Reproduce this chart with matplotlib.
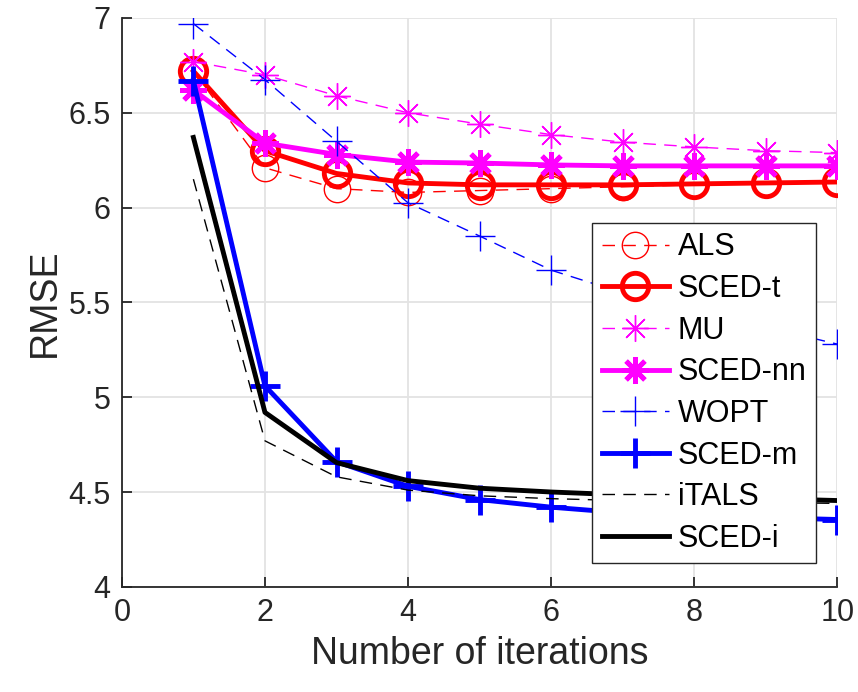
import matplotlib
matplotlib.use("Agg")
import matplotlib.pyplot as plt

plt.rcParams['font.family'] = ['Liberation Sans', 'DejaVu Sans']

iters = [1, 2, 3, 4, 5, 6, 7, 8, 9, 10]

als = [6.72, 6.21, 6.10, 6.08, 6.09, 6.10, 6.11, 6.12, 6.13, 6.13]
sced_t = [6.72, 6.30, 6.18, 6.13, 6.12, 6.12, 6.12, 6.125, 6.13, 6.135]
mu = [6.77, 6.70, 6.59, 6.50, 6.44, 6.385, 6.345, 6.32, 6.30, 6.29]
sced_nn = [6.62, 6.34, 6.28, 6.24, 6.235, 6.225, 6.22, 6.22, 6.22, 6.22]
wopt = [6.97, 6.675, 6.35, 6.025, 5.85, 5.67, 5.55, 5.45, 5.37, 5.28]
sced_m = [6.67, 5.06, 4.66, 4.53, 4.46, 4.42, 4.39, 4.375, 4.365, 4.355]
itals = [6.15, 4.77, 4.58, 4.51, 4.48, 4.465, 4.455, 4.45, 4.445, 4.44]
sced_i = [6.37, 4.92, 4.655, 4.56, 4.52, 4.50, 4.485, 4.475, 4.465, 4.455]

xticks = [0, 2, 4, 6, 8, 10]
yticks = [4, 4.5, 5, 5.5, 6, 6.5, 7]
ytick_labels = ['4', '4.5', '5', '5.5', '6', '6.5', '7']

fig = plt.figure(figsize=(8.58, 6.92), dpi=100)
ax = fig.add_axes([0.142, 0.152, 0.834, 0.822])

dash = (0, (9, 6))
star = (8, 2, 0)  # plus + cross, like a matlab '*'

ax.plot(iters, als, color='red', lw=1.0, ls=dash, marker='o', ms=19,
        mfc='none', mew=1.0, label='ALS')
ax.plot(iters, sced_t, color='red', lw=3.5, marker='o', ms=19,
        mfc='none', mew=3.5, label='SCED-t')
ax.plot(iters, mu, color='magenta', lw=1.0, ls=dash, marker=star, ms=19,
        mew=1.0, label='MU')
ax.plot(iters, sced_nn, color='magenta', lw=3.5, marker=star, ms=19,
        mew=3.5, label='SCED-nn')
ax.plot(iters, wopt, color='blue', lw=1.0, ls=dash, marker='+', ms=21,
        mew=1.0, label='WOPT')
ax.plot(iters, sced_m, color='blue', lw=3.5, marker='+', ms=21,
        mew=3.5, label='SCED-m')
ax.plot(iters, itals, color='black', lw=1.0, ls=dash, label='iTALS')
ax.plot(iters, sced_i, color='black', lw=3.5, label='SCED-i')

ax.set_xlim(0, 10)
ax.set_ylim(4, 7)
ax.set_xticks(xticks)
ax.set_yticks(yticks)
ax.set_yticklabels(ytick_labels)
ax.grid(True, color='#e3e3e3', lw=1.3)
ax.set_axisbelow(True)
for side in ['top', 'right']:
    ax.spines[side].set_visible(False)
for side in ['left', 'bottom']:
    ax.spines[side].set_color('#262626')
    ax.spines[side].set_linewidth(1.3)
ax.tick_params(direction='in', length=7, width=1.3, colors='#262626',
               labelsize=22, pad=8)

ax.set_xlabel('Number of iterations', fontsize=27, color='#262626', labelpad=6)
ax.set_ylabel('RMSE', fontsize=27, color='#262626', labelpad=4)

leg = ax.legend(loc='lower right', bbox_to_anchor=(0.97, 0.042), fontsize=22,
                fancybox=False, framealpha=1, edgecolor='#262626',
                handlelength=2.2, handletextpad=0.3, labelspacing=0.38,
                borderpad=0.3, borderaxespad=0)
leg.get_frame().set_linewidth(1.0)

fig.savefig('out.png', dpi=100)
